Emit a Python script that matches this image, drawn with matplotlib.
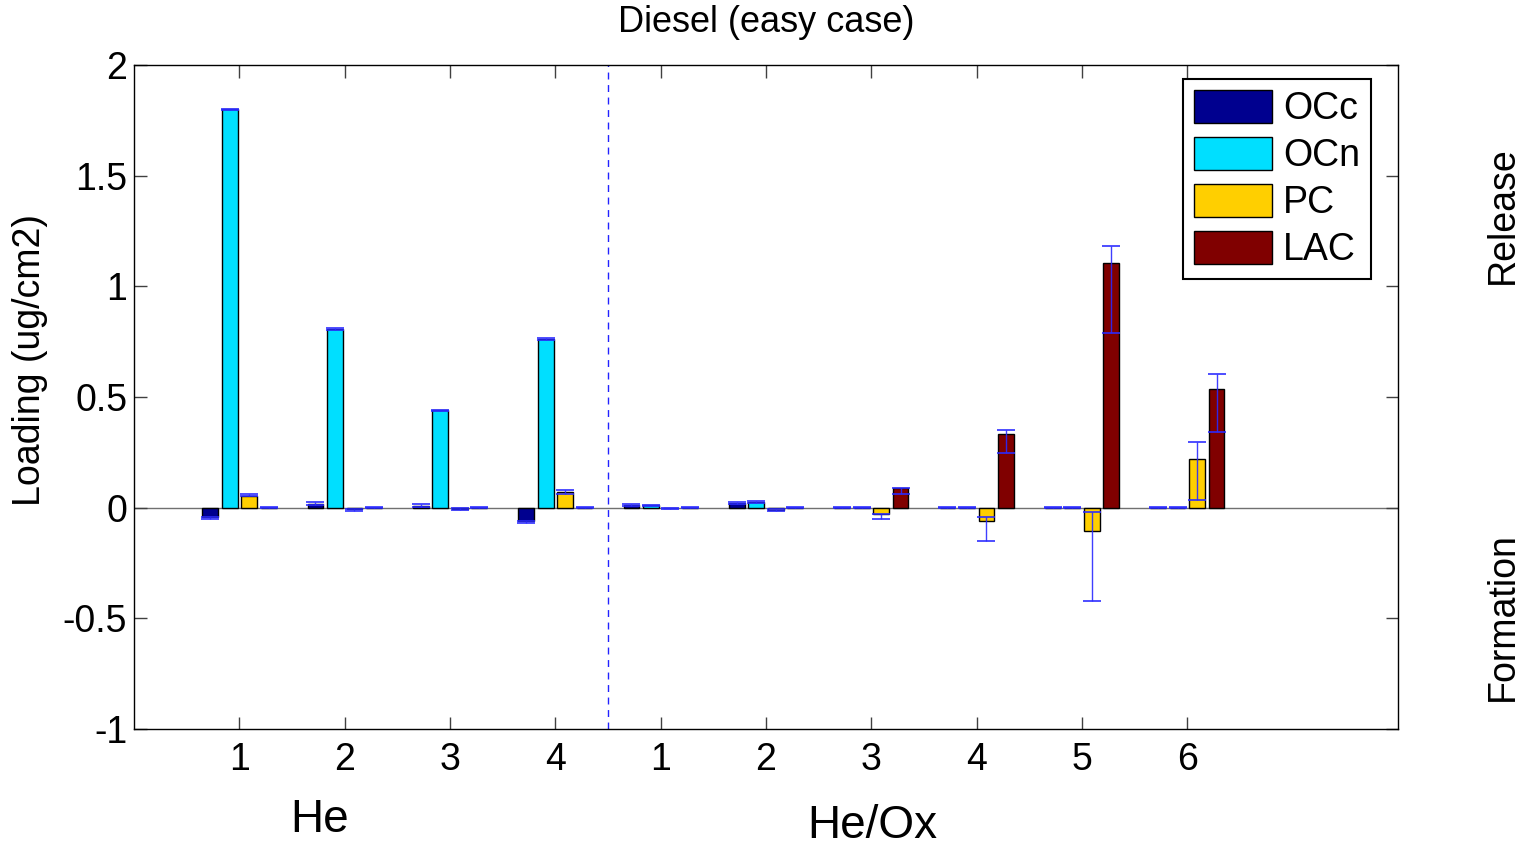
import numpy as np
import matplotlib.pyplot as plt

plt.rcParams['font.family'] = ['Liberation Sans', 'DejaVu Sans']

# groups: He 1-4, He/Ox 1-6
tick_labels = ['1', '2', '3', '4', '1', '2', '3', '4', '5', '6']
series = ['OCc', 'OCn', 'PC', 'LAC']
colors = ['#00008f', '#00dfff', '#ffcf00', '#800000']

occ = [-0.04, 0.018, 0.009, -0.06, 0.012, 0.02, 0.0, 0.0, 0.0, 0.0]
ocn = [1.80, 0.807, 0.44, 0.762, 0.01, 0.026, 0.0, 0.0, 0.0, 0.0]
pc = [0.053, -0.008, -0.005, 0.07, -0.002, -0.01, -0.027, -0.062, -0.107, 0.219]
lac = [0.0, 0.0, 0.0, 0.0, 0.0, 0.0, 0.088, 0.333, 1.104, 0.535]

# error bar bounds (low, high)
occ_lo = [-0.05, 0.012, 0.004, -0.07, 0.008, 0.016, -0.002, -0.002, -0.002, -0.002]
occ_hi = [-0.043, 0.025, 0.018, -0.062, 0.015, 0.024, 0.002, 0.002, 0.002, 0.002]
ocn_lo = [1.797, 0.804, 0.437, 0.759, 0.007, 0.022, -0.002, -0.002, -0.002, -0.002]
ocn_hi = [1.803, 0.81, 0.443, 0.765, 0.013, 0.03, 0.002, 0.002, 0.002, 0.002]
pc_lo = [0.053, -0.015, -0.01, 0.062, -0.005, -0.015, -0.053, -0.149, -0.42, 0.035]
pc_hi = [0.062, -0.005, -0.003, 0.078, 0.0, -0.006, -0.027, -0.043, -0.018, 0.298]
lac_lo = [-0.002, -0.002, -0.002, -0.002, -0.002, -0.002, 0.06, 0.246, 0.788, 0.341]
lac_hi = [0.002, 0.002, 0.002, 0.002, 0.002, 0.002, 0.088, 0.351, 1.184, 0.604]

values = [occ, ocn, pc, lac]
lows = [occ_lo, ocn_lo, pc_lo, lac_lo]
highs = [occ_hi, ocn_hi, pc_hi, lac_hi]

fig = plt.figure(figsize=(15.27, 8.47), dpi=100)
ax = fig.add_axes([0.0878, 0.1393, 0.8277, 0.784])

x = np.arange(1, len(tick_labels) + 1)
step = 0.185
width = 0.15
for i, (name, col) in enumerate(zip(series, colors)):
    pos = x + (i - 1.5) * step
    ax.bar(pos, values[i], width, color=col, edgecolor='black', linewidth=1, label=name, zorder=2)
    lo = np.array(lows[i])
    hi = np.array(highs[i])
    mid = (lo + hi) / 2
    ax.errorbar(pos, mid, yerr=(hi - lo) / 2, fmt='none', ecolor='#2a2aff',
                elinewidth=1, capsize=6.5, capthick=1.3, alpha=0.9, zorder=3)

ax.axhline(0, color='#707070', linewidth=1, zorder=1)
ax.axvline(4.5, color='#2222ff', linestyle=(0, (5, 4)), linewidth=1, zorder=1)

ax.set_xlim(0, 12)
ax.set_ylim(-1, 2)
ax.set_xticks(x)
ax.set_xticklabels(tick_labels)
ax.set_yticks([-1, -0.5, 0, 0.5, 1, 1.5, 2])
ax.set_yticklabels(['-1', '-0.5', '0', '0.5', '1', '1.5', '2'])
ax.tick_params(direction='in', length=9, width=1, top=True, right=True,
               labelsize=27, color='#404040')
ax.tick_params(axis='x', pad=9)
ax.tick_params(axis='y', pad=5)
for s in ax.spines.values():
    s.set_linewidth(1)

ylab = ax.set_ylabel('Loading (ug/cm2)', fontsize=27)
ylab.set_va('center')
ax.yaxis.set_label_coords(-0.082, 0.556)

leg = ax.legend(loc='upper right', bbox_to_anchor=(0.979, 0.979), borderaxespad=0,
                fontsize=27, fancybox=False, edgecolor='black', framealpha=1,
                handlelength=2.08, handleheight=0.96, labelspacing=0.26,
                handletextpad=0.29, borderpad=0.3)
leg.get_frame().set_linewidth(1.5)

fig.text(766 / 1527, 1 - 23 / 847, 'Diesel (easy case)', fontsize=26, ha='center', va='center')
fig.text(320 / 1527, 1 - 820 / 847, 'He', fontsize=33, ha='center', va='center')
fig.text(872 / 1527, 1 - 826 / 847, 'He/Ox', fontsize=33, ha='center', va='center')
fig.text(1503 / 1527, 1 - 215 / 847, 'Release', fontsize=27, rotation=90, ha='center', va='center')
fig.text(1503 / 1527, 1 - 617 / 847, 'Formation', fontsize=27, rotation=90, ha='center', va='center')

fig.savefig('out.png', dpi=100)
